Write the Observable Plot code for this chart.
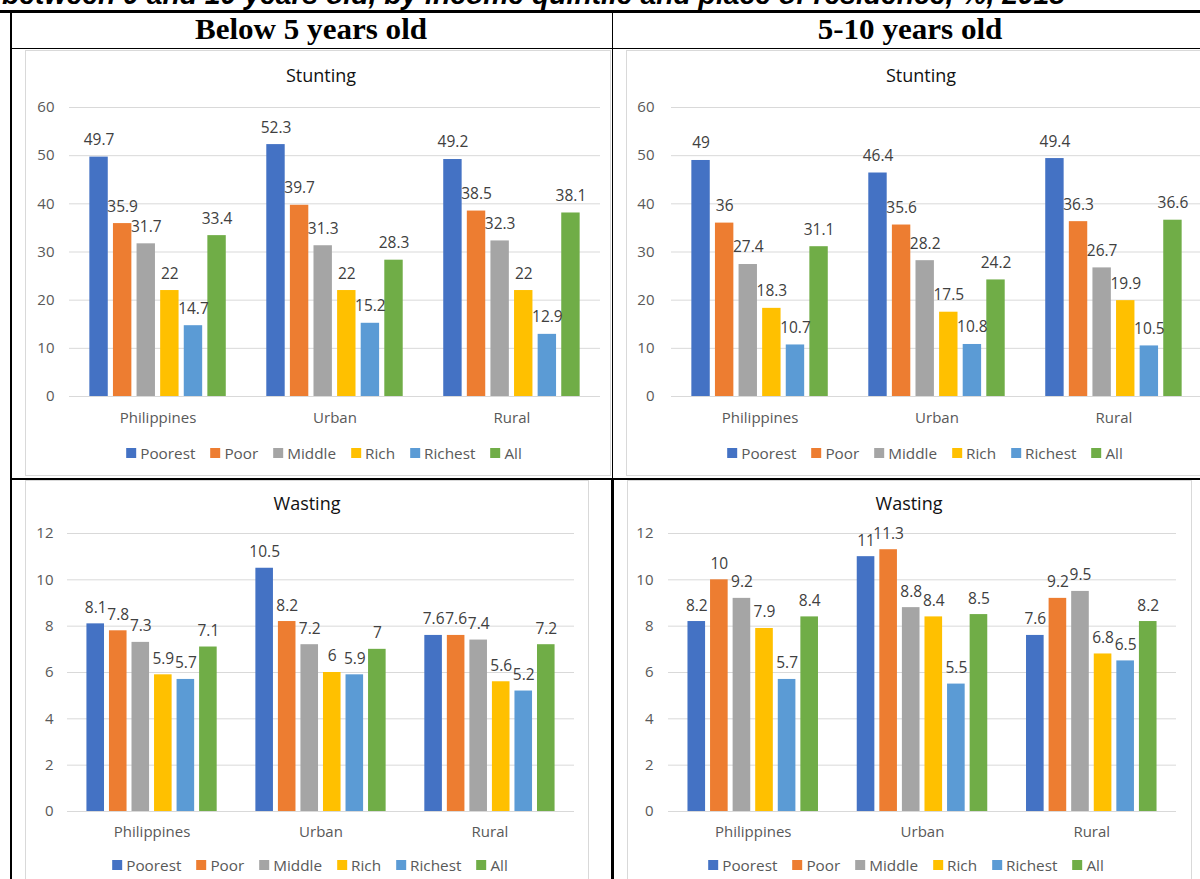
<!DOCTYPE html>
<html>
<head>
<meta charset="utf-8">
<script src="https://cdn.jsdelivr.net/npm/d3@7"></script>
<script src="https://cdn.jsdelivr.net/npm/@observablehq/plot@0.6"></script>
<style>
  html, body { margin: 0; padding: 0; background: #fff; }
  #root { position: relative; width: 1200px; height: 879px; overflow: hidden; background: #fff; }
  .line { position: absolute; background: #000; }
  .box { position: absolute; border: 1px solid #d9d9d9; box-sizing: border-box; background: #fff; }
  .hdr { position: absolute; transform: translate(-50%, -50%) scaleX(1.09); font-family: "Liberation Serif", "Times New Roman", serif; font-weight: bold; font-size: 28.5px; white-space: nowrap; color: #000; }
  .ttl { position: absolute; transform: translate(-50%, -50%); font-family: "Open Sans", sans-serif; font-size: 18px; color: #111; white-space: nowrap; }
  .legend { position: absolute; transform: translate(-50%, -50%); display: flex; gap: 15px; font-family: "Open Sans", sans-serif; font-size: 15.3px; color: #595959; white-space: nowrap; align-items: center; }
  .legend .item { display: flex; align-items: center; gap: 4px; }
  .legend .sw { width: 10px; height: 10px; display: inline-block; }
</style>
</head>
<body>
<div id="root"></div>
<script>
// ---------- data ----------
const places = ["Philippines", "Urban", "Rural"];
const quintiles = ["Poorest", "Poor", "Middle", "Rich", "Richest", "All"];
const quintileColors = ["#4472C4", "#ED7D31", "#A5A5A5", "#FFC000", "#5B9BD5", "#70AD47"];

// Stunting, below 5 years old
const stuntU5Philippines = [49.7, 35.9, 31.7, 22, 14.7, 33.4];
const stuntU5Urban = [52.3, 39.7, 31.3, 22, 15.2, 28.3];
const stuntU5Rural = [49.2, 38.5, 32.3, 22, 12.9, 38.1];
// Stunting, 5-10 years old
const stunt510Philippines = [49, 36, 27.4, 18.3, 10.7, 31.1];
const stunt510Urban = [46.4, 35.6, 28.2, 17.5, 10.8, 24.2];
const stunt510Rural = [49.4, 36.3, 26.7, 19.9, 10.5, 36.6];
// Wasting, below 5 years old
const wasteU5Philippines = [8.1, 7.8, 7.3, 5.9, 5.7, 7.1];
const wasteU5Urban = [10.5, 8.2, 7.2, 6, 5.9, 7];
const wasteU5Rural = [7.6, 7.6, 7.4, 5.6, 5.2, 7.2];
// Wasting, 5-10 years old
const waste510Philippines = [8.2, 10, 9.2, 7.9, 5.7, 8.4];
const waste510Urban = [11, 11.3, 8.8, 8.4, 5.5, 8.5];
const waste510Rural = [7.6, 9.2, 9.5, 6.8, 6.5, 8.2];

const stuntTicks = [0, 10, 20, 30, 40, 50, 60];
const wasteTicks = [0, 2, 4, 6, 8, 10, 12];

const pageHeading = "between 0 and 10 years old, by income quintile and place of residence, %, 2018";
const colHeaders = ["Below 5 years old", "5-10 years old"];
const chartTitles = ["Stunting", "Wasting"];

// ---------- layout ----------
const root = document.getElementById("root");

function el(tag, cls, styles, text) {
  const e = document.createElement(tag);
  if (cls) e.className = cls;
  Object.assign(e.style, styles || {});
  if (text != null) e.textContent = text;
  root.appendChild(e);
  return e;
}

function tidy(seriesByPlace) {
  const rows = [];
  places.forEach((p, i) => quintiles.forEach((q, j) => rows.push({place: p, quintile: q, value: seriesByPlace[i][j]})));
  return rows;
}

const panels = [
  {title: chartTitles[0], values: [stuntU5Philippines, stuntU5Urban, stuntU5Rural], ticks: stuntTicks,
   box: {left: 25, top: 50, width: 586, height: 426},
   svg: {left: 25, top: 50, width: 585, height: 386, marginLeft: 44, marginRight: 10, marginTop: 57, marginBottom: 40},
   yPad: 15, fxPad: 16, labelDy: -17, titleX: 321, titleY: 75, legendX: 324, legendY: 453},
  {title: chartTitles[0], values: [stunt510Philippines, stunt510Urban, stunt510Rural], ticks: stuntTicks,
   box: {left: 626, top: 50, width: 600, height: 426},
   svg: {left: 626, top: 50, width: 586, height: 386, marginLeft: 45, marginRight: 10, marginTop: 57, marginBottom: 40},
   yPad: 17, fxPad: 16, labelDy: -17, titleX: 921, titleY: 75, legendX: 925, legendY: 453},
  {title: chartTitles[1], values: [wasteU5Philippines, wasteU5Urban, wasteU5Rural], ticks: wasteTicks,
   box: {left: 25, top: 480, width: 564, height: 430},
   svg: {left: 25, top: 480, width: 564, height: 371, marginLeft: 42, marginRight: 15, marginTop: 53, marginBottom: 40},
   yPad: 14, fxPad: 15, labelDy: -16, titleX: 307, titleY: 503, legendX: 310, legendY: 865},
  {title: chartTitles[1], values: [waste510Philippines, waste510Urban, waste510Rural], ticks: wasteTicks,
   box: {left: 627, top: 480, width: 565, height: 430},
   svg: {left: 627, top: 480, width: 564, height: 371, marginLeft: 41, marginRight: 15, marginTop: 53, marginBottom: 40},
   yPad: 15, fxPad: 15, labelDy: -16, titleX: 909, titleY: 503, legendX: 906, legendY: 865}
];

// chart boxes (behind everything)
panels.forEach(p => el("div", "box", {left: p.box.left + "px", top: p.box.top + "px", width: p.box.width + "px", height: p.box.height + "px"}));

function place(svg, s) {
  svg.style.position = "absolute";
  svg.style.left = s.left + "px";
  svg.style.top = s.top + "px";
  root.appendChild(svg);
}

panels.forEach(p => {
  const data = tidy(p.values);
  const s = p.svg;
  const common = {
    width: s.width, height: s.height,
    marginLeft: s.marginLeft, marginRight: s.marginRight, marginTop: s.marginTop, marginBottom: s.marginBottom,
    style: {fontFamily: "Open Sans, sans-serif", fontSize: "15px", color: "#595959", background: "transparent", overflow: "visible"}
  };
  // value axis + gridlines (whole frame width)
  const grid = Plot.plot({
    ...common,
    x: {axis: null},
    y: {domain: [0, d3.max(p.ticks)], ticks: p.ticks, tickSize: 0, tickPadding: p.yPad, label: null, tickFormat: d => String(d)},
    marks: [
      Plot.ruleY(p.ticks, {stroke: "#d9d9d9", strokeWidth: 1})
    ]
  });
  place(grid, s);

  // grouped bars
  const chart = Plot.plot({
    ...common,
    fx: {domain: places, paddingInner: 0.229, paddingOuter: 0.115, round: false, label: null, axis: "bottom", tickSize: 0, tickPadding: p.fxPad},
    x: {domain: quintiles, paddingInner: 0.22, paddingOuter: 0, round: false, axis: null},
    y: {domain: [0, d3.max(p.ticks)], axis: null},
    color: {domain: quintiles, range: quintileColors},
    marks: [
      Plot.barY(data, {fx: "place", x: "quintile", y: "value", fill: "quintile"}),
      Plot.text(data, {fx: "place", x: "quintile", y: "value", text: d => String(d.value), dy: p.labelDy, fill: "#404040", fontSize: 15.5})
    ]
  });
  place(chart, s);

  el("div", "ttl", {left: p.titleX + "px", top: p.titleY + "px"}, p.title);

  const lg = el("div", "legend", {left: p.legendX + "px", top: p.legendY + "px"});
  quintiles.forEach((q, i) => {
    const it = document.createElement("span");
    it.className = "item";
    const sw = document.createElement("span");
    sw.className = "sw";
    sw.style.background = quintileColors[i];
    const tx = document.createElement("span");
    tx.textContent = q;
    it.appendChild(sw); it.appendChild(tx);
    lg.appendChild(it);
  });
});

// table lines
el("div", "line", {left: "0px", top: "10px", width: "1200px", height: "2.5px"});
el("div", "line", {left: "10px", top: "10px", width: "2px", height: "869px"});
el("div", "line", {left: "10px", top: "47.5px", width: "1190px", height: "1.5px"});
el("div", "line", {left: "612px", top: "10px", width: "1.3px", height: "470px"});
el("div", "line", {left: "611px", top: "478px", width: "2.5px", height: "401px"});
el("div", "line", {left: "10px", top: "478px", width: "1190px", height: "2px"});

// column headers
el("div", "hdr", {left: "311px", top: "30px"}, colHeaders[0]);
el("div", "hdr", {left: "910px", top: "30px"}, colHeaders[1]);

// heading line at the very top, clipped by the page edge as in the source
const ns = "http://www.w3.org/2000/svg";
const hs = document.createElementNS(ns, "svg");
hs.setAttribute("width", 1200); hs.setAttribute("height", 10);
hs.style.position = "absolute"; hs.style.left = "0px"; hs.style.top = "0px";
const ht = document.createElementNS(ns, "text");
ht.setAttribute("x", 2); ht.setAttribute("y", 4);
ht.setAttribute("font-family", "Liberation Sans, Arial, sans-serif");
ht.setAttribute("font-weight", "bold");
ht.setAttribute("font-style", "italic");
ht.setAttribute("font-size", 28.3);
ht.setAttribute("fill", "#000");
ht.textContent = pageHeading;
hs.appendChild(ht);
root.appendChild(hs);
</script>
</body>
</html>
